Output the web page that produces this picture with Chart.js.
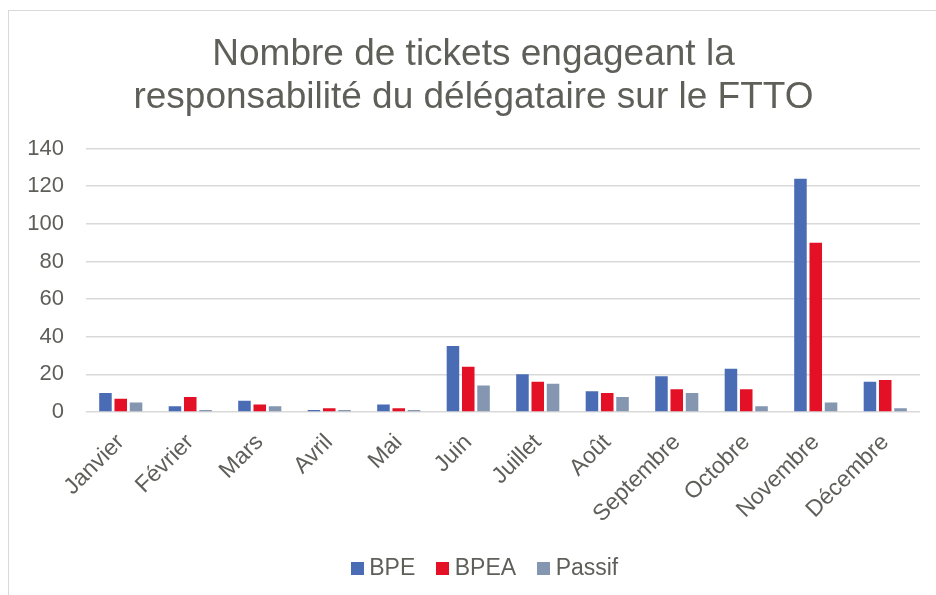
<!DOCTYPE html>
<html><head><meta charset="utf-8">
<script src="https://cdn.jsdelivr.net/npm/chart.js@4"></script>
<style>
html,body{margin:0;padding:0;background:#fff;width:936px;height:595px;overflow:hidden;}
#frame{position:absolute;left:8px;top:10px;width:940px;height:600px;border:1px solid #d9d9d9;box-sizing:border-box;}
#wrap{position:absolute;left:9px;top:11px;width:927px;height:584px;}
</style></head>
<body>
<div id="frame"></div>
<div id="wrap"><canvas id="c"></canvas></div>
<script>
const months = ["Janvier","Février","Mars","Avril","Mai","Juin","Juillet","Août","Septembre","Octobre","Novembre","Décembre"];
const bpe    = [10, 3, 6, 1, 4, 35, 20, 11, 19, 23, 124, 16];
const bpea   = [7, 8, 4, 2, 2, 24, 16, 10, 12, 12, 90, 17];
const passif = [5, 1, 3, 1, 1, 14, 15, 8, 10, 3, 5, 2];
const seriesNames = ["BPE", "BPEA", "Passif"];
const seriesColors = ["#4a6cb5", "#e31026", "#8496b0"];
const titleLines = ["Nombre de tickets engageant la", "responsabilité du délégataire sur le FTTO"];

const textColor = "#5f5f5a";
const fam = "Liberation Sans, Arial, sans-serif";

function swatch(color) {
  const c = document.createElement("canvas");
  c.width = 13; c.height = 13;
  const g = c.getContext("2d");
  g.fillStyle = color; g.fillRect(0, 0, 13, 13);
  return c;
}
const swatches = seriesColors.map(swatch);

const legendShift = {
  id: "legendShift",
  afterInit(chart) {
    const lg = chart.legend;
    if (!lg || lg._shifted) return;
    const orig = lg.draw.bind(lg);
    lg.draw = function () {
      const ctx = chart.ctx;
      ctx.save();
      ctx.translate(14, -14);
      orig();
      ctx.restore();
    };
    lg._shifted = true;
  }
};

new Chart(document.getElementById("c"), {
  type: "bar",
  data: {
    labels: months,
    datasets: [
      {label: seriesNames[0], data: bpe, backgroundColor: seriesColors[0]},
      {label: seriesNames[1], data: bpea, backgroundColor: seriesColors[1]},
      {label: seriesNames[2], data: passif, backgroundColor: seriesColors[2]}
    ]
  },
  plugins: [legendShift],
  options: {
    responsive: true,
    maintainAspectRatio: false,
    animation: false,
    layout: {autoPadding: false, padding: {left: 18, right: 16, top: 22, bottom: -9}},
    datasets: {bar: {categoryPercentage: 0.66, barPercentage: 0.82}},
    plugins: {
      title: {
        display: true,
        text: titleLines,
        color: textColor,
        font: {family: fam, size: 37, weight: "normal", lineHeight: 1.17},
        padding: {top: 0, bottom: 29}
      },
      legend: {
        position: "bottom",
        labels: {
          color: textColor,
          font: {family: fam, size: 23},
          usePointStyle: true,
          pointStyleWidth: 1,
          boxHeight: 13,
          padding: 27,
          generateLabels(chart) {
            const items = Chart.defaults.plugins.legend.labels.generateLabels(chart);
            items.forEach((it, i) => { it.pointStyle = swatches[i]; });
            return items;
          }
        }
      },
      tooltip: {enabled: false}
    },
    scales: {
      x: {
        grid: {display: false},
        border: {display: false},
        afterFit: (s) => { s.paddingLeft = 0; s.paddingRight = 0; s.height += 7; },
        ticks: {
          color: textColor,
          font: {family: fam, size: 23},
          maxRotation: 45, minRotation: 45, padding: 9
        }
      },
      y: {
        min: 0, max: 140,
        afterFit: (s) => { s.width = 59; },
        ticks: {
          stepSize: 20,
          color: textColor,
          font: {family: fam, size: 22},
          padding: 22
        },
        grid: {color: "#d9d9d9", lineWidth: 1.5, drawTicks: false},
        border: {display: false}
      }
    }
  }
});
</script>
</body></html>
